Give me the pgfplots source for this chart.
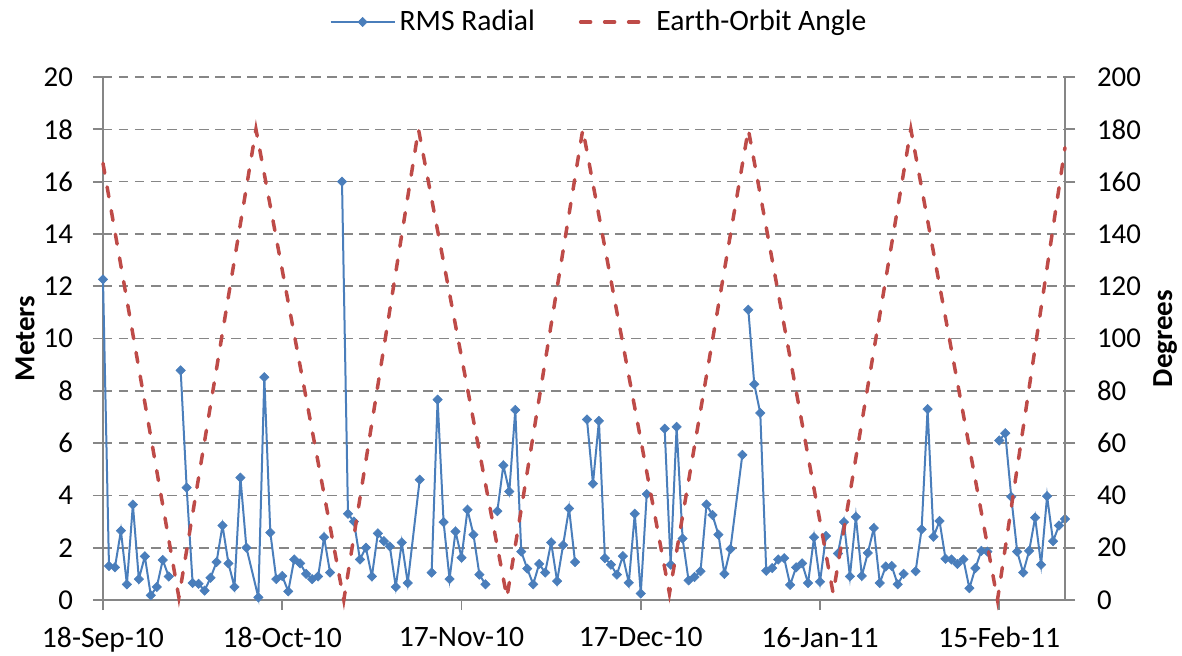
\documentclass[border=0pt]{standalone}
\usepackage{fontspec}
\setmainfont{Carlito}
\usepackage{pgfplots}
\usepackage{pgfplotstable}
\pgfplotsset{compat=1.18}
\definecolor{rmsblue}{HTML}{4A7EBB}
\definecolor{angred}{HTML}{BE4B48}
\definecolor{axgray}{HTML}{868686}

\pgfplotstableread{
day val
0 12.26
1 1.30
2 1.25
3 2.65
4 0.60
5 3.65
6 0.80
7 1.67
8 0.18
9 0.50
10 1.53
11 0.90
12 nan
13 8.78
14 4.30
15 0.65
16 0.62
17 0.36
18 0.85
19 1.45
20 2.85
21 1.40
22 0.50
23 4.68
24 2.00
26 0.10
27 8.52
28 2.58
29 0.80
30 0.92
31 0.33
32 1.55
33 1.40
34 1.00
35 0.80
36 0.90
37 2.40
38 1.05
39 nan
40 16.00
41 3.30
42 3.00
43 1.55
44 2.00
45 0.90
46 2.55
47 2.25
48 2.05
49 0.50
50 2.20
51 0.65
53 4.60
54 nan
55 1.05
56 7.66
57 2.98
58 0.80
59 2.62
60 1.62
61 3.45
62 2.50
63 0.97
64 0.60
65 nan
66 3.40
67 5.15
68 4.15
69 7.27
70 1.85
71 1.20
72 0.60
73 1.38
74 1.05
75 2.20
76 0.72
77 2.10
78 3.50
79 1.45
80 nan
81 6.90
82 4.45
83 6.85
84 1.60
85 1.35
86 0.97
87 1.68
88 0.66
89 3.30
90 0.25
91 4.05
92 nan
94 6.55
95 1.35
96 6.62
97 2.35
98 0.75
99 0.88
100 1.10
101 3.65
102 3.25
103 2.50
104 1.00
105 1.95
107 5.55
107.5 nan
108 11.10
109 8.25
110 7.15
111 1.12
112 1.22
113 1.55
114 1.60
115 0.58
116 1.25
117 1.40
118 0.65
119 2.40
120 0.70
121 2.45
122 nan
123 1.78
124 2.98
125 0.90
126 3.18
127 0.92
128 1.80
129 2.75
130 0.65
131 1.28
132 1.30
133 0.60
134 1.00
135 nan
136 1.10
137 2.70
138 7.30
139 2.42
140 3.02
141 1.58
142 1.55
143 1.38
144 1.55
145 0.45
146 1.22
147 1.88
148 1.85
149 nan
150 6.10
151 6.38
152 3.95
153 1.85
154 1.05
155 1.88
156 3.15
157 1.35
158 3.97
159 2.25
160 2.85
161 3.10
}\rmsdata

\pgfplotstableread{
day ang
0 167
12.7 1
25.6 180
40.3 0
52.8 180
67.6 1
80.3 180
94.8 2.5
108.0 180
122.2 2.5
135.2 180
149.7 0
161 173
}\angdata

\pgfplotsset{
  myaxis/.style={
    scale only axis, width=481pt, height=261.5pt,
    xmin=0, xmax=161, clip=false,
    axis line style={axgray, line width=0.9pt},
    tick style={axgray, line width=0.9pt},
    tick align=outside, major tick length=5pt,
    ticklabel style={font=\fontsize{14.4}{17}\selectfont},
    /pgf/number format/assume math mode=true,
    label style={font=\fontsize{14.5}{17}\selectfont\bfseries},
    unbounded coords=jump,
  }
}

\begin{document}
\begin{tikzpicture}
\begin{axis}[myaxis, name=main,
  ymin=0, ymax=20, ytick={0,2,...,20},
  axis y line*=left, axis x line*=bottom,
  xtick={0,30,60,90,120,150},
  xticklabels={18-Sep-10,18-Oct-10,17-Nov-10,17-Dec-10,16-Jan-11,15-Feb-11},
  xticklabel style={font=\fontsize{14.8}{17}\selectfont, yshift=-5pt},
  ymajorgrids,
  major grid style={axgray, line width=0.8pt, dash pattern=on 4.75pt off 3.25pt},
  yticklabel style={xshift=-6.5pt},
  ylabel={Meters},
  ylabel style={at={(axis description cs:-0.081,0.5)}, anchor=center},
]
\addplot[rmsblue, line width=1pt, mark=square*, mark size=1.65pt,
  mark options={rotate=45, fill=rmsblue, draw=rmsblue, line width=0.3pt}]
  table[x=day, y=val] {\rmsdata};
\end{axis}
\begin{axis}[myaxis,
  ymin=0, ymax=200, ytick={0,20,...,200},
  axis y line*=right, axis x line=none,
  yticklabel style={xshift=7.5pt},
  ylabel={Degrees},
  ylabel style={at={(axis description cs:1.104,0.5)}, anchor=center},
  legend columns=2,
  legend style={at={(axis description cs:0.5,1)}, anchor=center, yshift=27.5pt, xshift=8pt,
    draw=none, fill=none, font=\fontsize{14.8}{17}\selectfont,
    /tikz/every even column/.append style={column sep=20pt}},
  legend cell align=left,
]
\addlegendimage{rmsblue, line width=1pt, mark=square*, mark size=1.65pt,
  mark options={rotate=45, fill=rmsblue, draw=rmsblue, line width=0.3pt, solid},
  legend image code/.code={\draw[mark repeat=2, mark phase=2] plot coordinates {(0pt,0pt) (16pt,0pt) (32pt,0pt)};}}
\addlegendentry{RMS Radial}
\addplot[angred, line width=1.75pt, line cap=round, dash pattern=on 5pt off 7pt,
  legend image code/.code={\draw (0pt,0pt) -- (35pt,0pt);}]
  table[x=day, y=ang] {\angdata};
\addlegendentry{Earth-Orbit Angle}
\end{axis}
\pgfresetboundingbox
\path (main.south west) ++(-51.5pt,-27.5pt) rectangle ++(591pt,327.5pt);
\end{tikzpicture}
\end{document}
